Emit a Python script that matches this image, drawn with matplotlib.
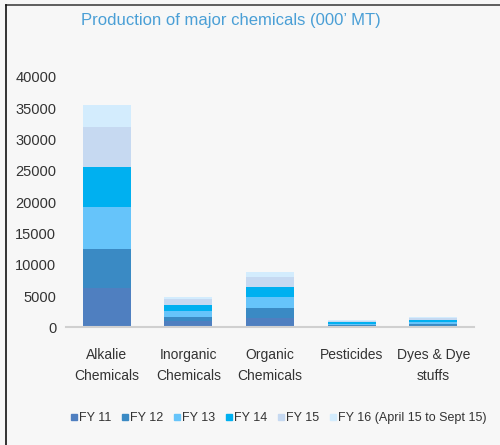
import matplotlib.pyplot as plt
from matplotlib import font_manager
from matplotlib.lines import Line2D
import numpy as np

categories = ["Alkalie\nChemicals", "Inorganic\nChemicals", "Organic\nChemicals",
              "Pesticides", "Dyes & Dye\nstuffs"]
series = ["FY 11", "FY 12", "FY 13", "FY 14", "FY 15", "FY 16 (April 15 to Sept 15)"]
fy11 = [6240, 1000, 1440, 190, 270]
fy12 = [6290, 700, 1600, 200, 280]
fy13 = [6670, 900, 1860, 210, 300]
fy14 = [6400, 960, 1600, 210, 310]
fy15 = [6400, 900, 1600, 210, 330]
fy16 = [3570, 420, 800, 100, 170]
yticks = [0, 5000, 10000, 15000, 20000, 25000, 30000, 35000, 40000]

colors = ["#4F7FC0", "#3A8AC4", "#66C4FA", "#00B0F0", "#C6D9F1", "#D3ECFD"]

names = {f.name for f in font_manager.fontManager.ttflist}
family = "Liberation Sans Narrow" if "Liberation Sans Narrow" in names else "Liberation Sans"
plt.rcParams["font.family"] = [family, "DejaVu Sans"]

fig = plt.figure(figsize=(5, 4.45), dpi=100, facecolor="#F7F7F7")
ax = fig.add_axes([0.132, 0.2645, 0.816, 0.5625])
ax.set_facecolor("#F7F7F7")

x = np.arange(len(categories))
bottom = np.zeros(len(categories))
for name, vals, c in zip(series, [fy11, fy12, fy13, fy14, fy15, fy16], colors):
    ax.bar(x, vals, width=0.59, bottom=bottom, color=c, label=name)
    bottom += np.array(vals)

ax.set_xlim(-0.5, len(categories) - 0.5)
ax.set_ylim(0, 40000)
ax.set_yticks(yticks)
ax.set_yticklabels([str(t) for t in yticks], fontsize=10.5, color="#333333")
ax.set_xticks(x)
ax.set_xticklabels(categories, fontsize=10, color="#333333", linespacing=1.65)
ax.tick_params(length=0, pad=7)
ax.tick_params(axis="x", pad=15)
for s in ["top", "right", "left"]:
    ax.spines[s].set_visible(False)
ax.spines["bottom"].set_color("#D0D0D0")
ax.spines["bottom"].set_linewidth(1.5)

fig.text(0.462, 0.955, "Production of major chemicals (000\u2019 MT)", ha="center",
         va="center", fontsize=12, color="#4A9FD6")

handles = [Line2D([], [], marker="s", linestyle="none", markersize=5,
                  markerfacecolor=c, markeredgecolor=c) for c in colors]
fig.legend(handles, series, loc="center", bbox_to_anchor=(0.555, 0.06), ncol=6,
           frameon=False, fontsize=9, handletextpad=0.0, columnspacing=0.7,
           handlelength=0.8, labelcolor="#333333")

# border lines at top and left
fig.add_artist(Line2D([0.012, 1.0], [0.989, 0.989], color="#444444", linewidth=1.2,
                      transform=fig.transFigure))
fig.add_artist(Line2D([0.012, 0.012], [0.0, 0.989], color="#111111", linewidth=1.2,
                      transform=fig.transFigure))

fig.savefig("out.png", dpi=100, facecolor=fig.get_facecolor())
